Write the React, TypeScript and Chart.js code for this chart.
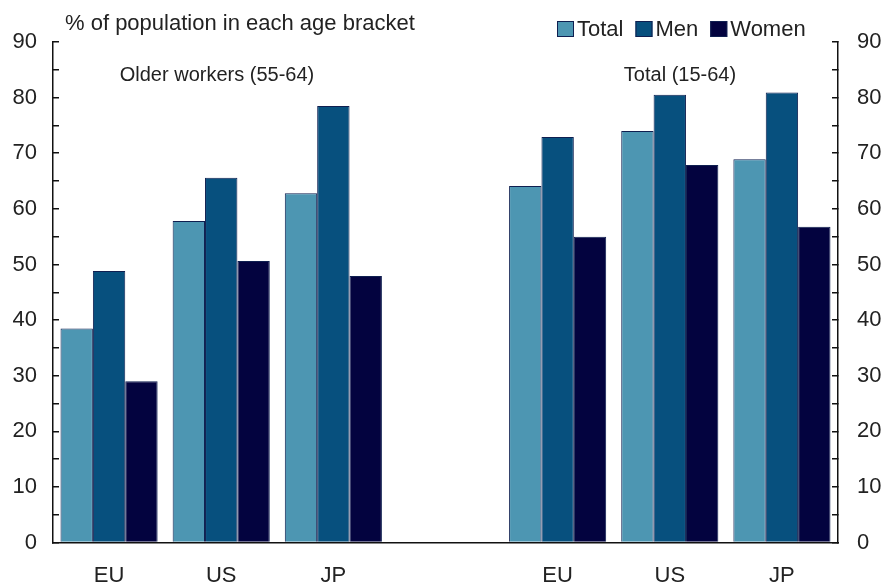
import React, { useEffect, useRef } from "react";
import { Chart, registerables } from "chart.js";

Chart.register(...registerables);

const categories = ["EU", "US", "JP", "", "EU", "US", "JP"];
const totalValues = [38.5, 57.8, 62.8, null, 64.1, 74.0, 68.9];
const menValues = [48.8, 65.6, 78.5, null, 72.9, 80.5, 80.9];
const womenValues = [29.0, 50.6, 47.9, null, 55.0, 67.9, 56.8];
const seriesNames = ["Total", "Men", "Women"];
const seriesColors = ["#4d96b2", "#07507e", "#03033f"];
const yTicks = [0, 10, 20, 30, 40, 50, 60, 70, 80, 90];
const titleText = "% of population in each age bracket";
const groupLabels = ["Older workers (55-64)", "Total (15-64)"];

const FONT = "'Liberation Sans', Arial, Helvetica, sans-serif";
const BORDER = "#0f1f50";

const textPlugin = {
  id: "textPlugin",
  afterDraw(chart: any) {
    const ctx = chart.ctx;
    ctx.save();
    ctx.fillStyle = "#222";
    ctx.textBaseline = "middle";
    ctx.font = `22px ${FONT}`;
    ctx.textAlign = "left";
    ctx.fillText(titleText, 65, 24);

    ctx.font = `20px ${FONT}`;
    ctx.textAlign = "center";
    ctx.fillText(groupLabels[0], 217, 75);
    ctx.fillText(groupLabels[1], 680, 75);

    // legend
    ctx.font = `22px ${FONT}`;
    ctx.textAlign = "left";
    let x = 557;
    const y = 29;
    chart.data.datasets.forEach((ds: any) => {
      ctx.fillStyle = ds.backgroundColor;
      ctx.fillRect(x, y - 8, 17, 16);
      ctx.strokeStyle = BORDER;
      ctx.lineWidth = 1;
      ctx.strokeRect(x + 0.5, y - 7.5, 16, 15);
      ctx.fillStyle = "#222";
      ctx.fillText(ds.label, x + 20, y + 1);
      x += 20 + ctx.measureText(ds.label).width + 12;
    });
    ctx.restore();
  },
};

export default function App() {
  const ref = useRef<HTMLCanvasElement>(null);
  useEffect(() => {
    document.body.style.margin = "0";
    const data = [totalValues, menValues, womenValues];
    const yCommon = (position: "left" | "right") => ({
      type: "linear" as const,
      position,
      min: 0,
      max: 90,
      afterBuildTicks(scale: any) {
        const t: any[] = [];
        for (let v = 0; v <= 90; v += 5) t.push({ value: v });
        scale.ticks = t;
      },
      afterFit(scale: any) {
        scale.width = position === "left" ? 53 : 43;
      },
      grid: {
        display: true,
        drawOnChartArea: false,
        drawTicks: true,
        tickLength: -6,
        color: "#111",
        lineWidth: 1.5,
      },
      border: { display: true, color: "#111", width: 1.5 },
      ticks: {
        autoSkip: false,
        padding: position === "left" ? 22 : 25,
        color: "#222",
        font: { family: FONT, size: 22 },
        callback: (v: any) => (yTicks.includes(Number(v)) ? String(v) : ""),
      },
    });
    const chart = new Chart(ref.current!, {
      type: "bar",
      data: {
        labels: categories,
        datasets: seriesNames.map((name, i) => ({
          label: name,
          data: data[i],
          backgroundColor: seriesColors[i],
          borderColor: BORDER,
          borderWidth: 1,
          barPercentage: 1,
          categoryPercentage: 0.866,
        })),
      },
      options: {
        animation: false,
        responsive: false,
        maintainAspectRatio: false,
        layout: { padding: { top: 42, left: 0, right: 0, bottom: 0 } },
        plugins: {
          legend: { display: false },
          title: { display: false },
          tooltip: { enabled: false },
        },
        scales: {
          x: {
            type: "category",
            offset: true,
            afterFit(scale: any) {
              scale.height = 43.5;
            },
            grid: { display: false, drawTicks: false },
            border: { display: true, color: "#111", width: 1.5 },
            ticks: {
              padding: 20,
              color: "#222",
              font: { family: FONT, size: 22 },
              maxRotation: 0,
              autoSkip: false,
            },
          },
          y: yCommon("left"),
          y2: yCommon("right"),
        },
      },
      plugins: [textPlugin],
    } as any);
    return () => chart.destroy();
  }, []);
  return (
    <div style={{ position: "fixed", left: 0, top: 0, width: 881, height: 586, background: "#fff" }}>
      <canvas ref={ref} width={881} height={586} style={{ width: 881, height: 586 }} />
    </div>
  );
}
